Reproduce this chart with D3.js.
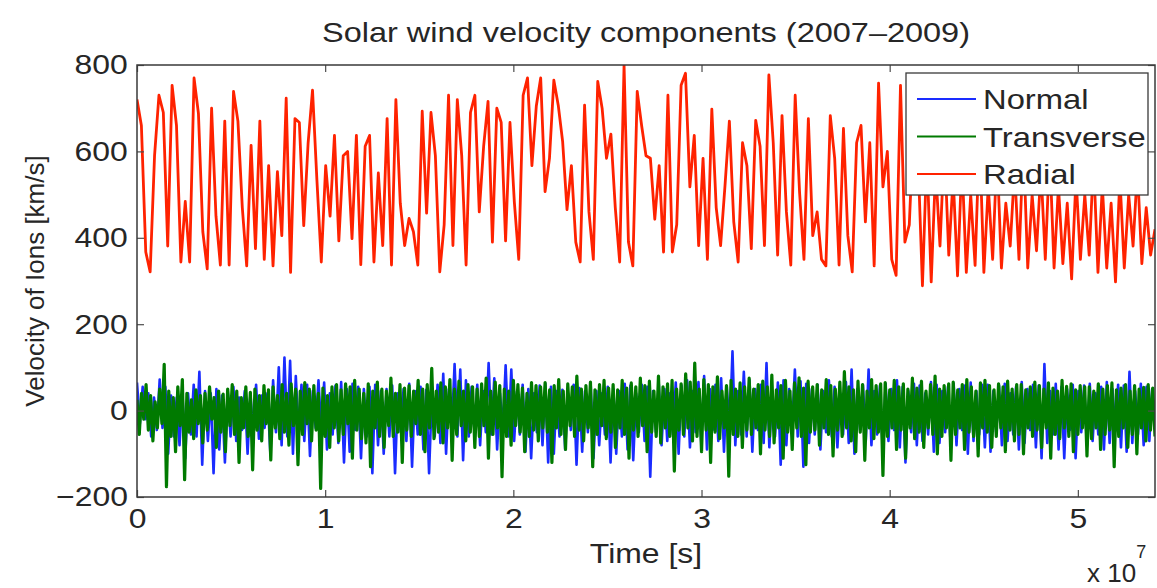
<!DOCTYPE html>
<html>
<head>
<meta charset="utf-8">
<script src="https://cdn.jsdelivr.net/npm/d3@7"></script>
<style>
  body { margin: 0; background: #fff; }
  text { font-family: "Liberation Sans", Arial, Helvetica, sans-serif; fill: #262626; }
</style>
</head>
<body>
<div id="chart"></div>
<script>
// values, evenly spaced over the time span
var radial = [720,660,367,321,590,730,690,381,753,660,
  344,484,344,770,688,414,328,700,450,337,
  670,337,739,670,470,335,614,375,670,350,
  567,335,553,405,723,320,676,667,428,620,
  742,534,344,567,450,637,393,590,600,398,
  637,338,612,637,344,550,382,676,337,720,
  480,382,445,414,337,693,457,690,590,321,
  430,730,382,720,590,337,690,730,460,612,
  716,390,700,667,393,667,482,350,730,770,
  567,705,
  770,507,584,765,707,623,465,567,390,344,707,460,350,762,700,584,640,470,344,800,390,335,739,660,590,
  584,443,567,367,730,367,430,753,781,518,
  637,382,584,350,698,470,382,520,670,437,
  344,620,567,375,672,612,382,777,620,360,
  683,460,337,730,505,350,676,405,460,350,
  335,683,584,337,653,405,321,620,660,437,
  620,335,758,518,600,350,313,753,390,430,
  667,584,
  289,595,298,560,381,620,360,540,312,580,
  320,500,336,640,320,520,350,600,330,480,
  381,560,350,620,330,500,370,560,350,600,
  330,520,340,480,305,540,350,500,360,580,
  320,520,330,480,298,540,330,500,381,560,
  340,470,360,420];

var normal = [65,-30,55,-20,40,-60,30,-45,72,-40,55,-100,35,-60,30,-80,45,-110,40,-55,60,-60,90,-125,45,-70,40,-145,50,-90,
  35,-120,45,-60,55,-70,30,-45,45,-100,40,-60,60,-65,35,-40,40,-95,70,-50,100,-80,123,-60,115,-100,80,-55,60,-70,
  60,-105,45,-40,70,-50,65,-90,40,-55,58,-75,66,-120,50,-95,62,-45,55,-110,50,-60,55,-145,60,-80,45,-100,50,-60,
  58,-145,40,-50,50,-70,62,-130,45,-55,55,-90,48,-145,40,-60,60,-75,85,-100,50,-45,108,-60,95,-115,70,-60,55,-45,
  60,-80,45,-50,110,-55,75,-90,40,-45,105,-60,95,-70,45,-55,60,-95,50,-110,40,-50,58,-80,62,-120,55,-100,45,-60,
  48,-90,40,-45,60,-125,52,-95,45,-50,58,-110,45,-80,40,-55,55,-120,50,-100,45,-60,62,-90,58,-115,40,-50,60,-70,
  55,-153,45,-50,62,-80,50,-70,40,-55,65,-100,58,-60,70,-85,45,-50,66,-75,80,-90,50,-45,60,-70,75,-95,55,-50,
  137,-80,45,-55,90,-60,70,-95,50,-45,60,-75,110,-85,45,-60,65,-125,70,-80,50,-45,95,-60,68,-130,62,-75,50,-55,
  60,-90,45,-50,70,-60,55,-85,40,-55,66,-75,95,-100,50,-45,60,-70,95,-80,45,-55,58,-95,62,-70,50,-45,70,-85,
  55,-120,45,-50,62,-80,58,-70,40,-55,66,-95,60,-75,45,-50,55,-90,62,-80,50,-45,58,-100,65,-70,45,-55,60,-85,
  60,-95,45,-50,58,-80,62,-70,40,-55,55,-90,66,-75,50,-45,60,-85,58,-110,108,-75,45,-55,62,-90,55,-110,50,-45,
  60,-110,45,-50,58,-80,62,-70,40,-55,55,-90,66,-75,50,-45,60,-85,58,-95,90,-75,45,-55,62,-80,55,-70,50,-45];

var transverse = [25,-55,40,-20,60,-45,35,-70,20,-40,50,-30,107,-176,45,-60,30,-95,55,-35,72,-160,40,-50,25,-65,48,-30,35,-75,
  40,-45,55,-20,30,-85,45,-50,38,-95,50,-35,60,-55,45,-120,30,-40,55,-60,42,-137,50,-45,35,-70,58,-30,48,-114,
  55,-40,35,-65,60,-50,40,-80,62,-35,50,-125,45,-55,65,-30,50,-70,58,-45,40,-180,52,-60,35,-85,55,-40,60,-70,
  48,-55,62,-30,55,-110,70,-45,50,-65,40,-75,62,-130,45,-40,66,-60,50,-85,45,-35,75,-60,40,-50,60,-120,52,-45,
  58,-60,45,-30,70,-55,50,-95,60,-40,98,-65,45,-50,64,-75,55,-40,72,-115,50,-55,68,-35,45,-70,60,-50,55,-85,
  50,-60,62,-35,75,-110,45,-55,66,-40,58,-153,50,-60,45,-80,70,-35,60,-50,52,-95,40,-60,65,-45,58,-70,55,-40,
  65,-50,48,-120,58,-40,72,-55,45,-90,62,-35,55,-60,80,-45,50,-70,58,-40,66,-130,48,-55,60,-35,70,-65,52,-50,
  60,-85,48,-40,70,-55,52,-110,64,-45,55,-60,75,-35,58,-95,68,-50,45,-60,80,-75,55,-40,62,-60,70,-140,50,-45,
  62,-55,85,-40,66,-70,110,-60,50,-95,72,-45,60,-120,55,-50,78,-65,45,-40,58,-152,70,-55,50,-60,64,-85,55,-45,
  75,-55,50,-40,60,-100,68,-45,55,-60,82,-75,48,-40,58,-110,70,-50,45,-90,64,-40,76,-60,52,-125,68,-50,55,-45,
  60,-80,48,-40,72,-55,58,-105,50,-45,66,-60,90,-40,55,-70,48,-95,68,-50,60,-115,45,-40,72,-65,58,-50,62,-150,
  65,-60,48,-40,70,-90,55,-45,62,-110,50,-40,75,-65,52,-50,68,-85,45,-40,60,-55,80,-100,50,-60,58,-40,62,-115,
  66,-55,48,-40,60,-90,72,-50,55,-60,45,-105,64,-40,70,-50,58,-85,48,-60,62,-40,55,-95,68,-45,50,-70,60,-55,
  60,-100,48,-40,55,-60,66,-45,58,-85,50,-40,64,-110,52,-55,45,-65,70,-40,56,-60,62,-95,48,-55,58,-40,55,-105,
  55,-65,45,-40,62,-90,50,-55,58,-45,64,-130,48,-60,52,-40,60,-85,45,-55,58,-100,50,-40,54,-70,60,-45,52,-60];

var tEnd = 5.41e7;
var xTicks = [0, 1e7, 2e7, 3e7, 4e7, 5e7];
var yTicks = [-200, 0, 200, 400, 600, 800];
var seriesNames = ["Normal", "Transverse", "Radial"];
var seriesColors = ["#1a2cff", "#007a00", "#ff2200"];

var W = 1157, H = 588;
var margin = {left: 137, right: 2, top: 65, bottom: 91};
var stretch = 1.14; // the text in the picture is a bit wide

var svg = d3.select("#chart").append("svg")
  .attr("width", W)
  .attr("height", H);

var x = d3.scaleLinear().domain([0, tEnd]).range([margin.left, W - margin.right]);
var y = d3.scaleLinear().domain([-200, 800]).range([H - margin.bottom, margin.top]);

svg.append("clipPath").attr("id", "plotclip")
  .append("rect")
  .attr("x", margin.left).attr("y", margin.top)
  .attr("width", W - margin.right - margin.left)
  .attr("height", H - margin.bottom - margin.top);

function toPoints(arr) {
  var step = tEnd / (arr.length - 1);
  return arr.map(function(v, i) { return [i * step, v]; });
}

var line = d3.line()
  .x(function(d) { return x(d[0]); })
  .y(function(d) { return y(d[1]); });

var widths = [2.6, 3.2, 2.8];
var plot = svg.append("g").attr("clip-path", "url(#plotclip)");
[normal, transverse, radial].forEach(function(arr, i) {
  plot.append("path")
    .datum(toPoints(arr))
    .attr("d", line)
    .attr("fill", "none")
    .attr("stroke", seriesColors[i])
    .attr("stroke-width", widths[i])
    .attr("stroke-linejoin", "round");
});

// axes, ticks pointing inward like matlab
var fmtX = function(d) { return d / 1e7; };
var fmtY = function(d) { return d < 0 ? "\u2212" + Math.abs(d) : d; };

var gB = svg.append("g").attr("transform", "translate(0," + (H - margin.bottom) + ")")
  .call(d3.axisBottom(x).tickValues(xTicks).tickFormat(fmtX).tickSizeInner(-7).tickSizeOuter(0).tickPadding(11));
var gT = svg.append("g").attr("transform", "translate(0," + margin.top + ")")
  .call(d3.axisTop(x).tickValues(xTicks).tickFormat("").tickSizeInner(-7).tickSizeOuter(0));
var gL = svg.append("g").attr("transform", "translate(" + margin.left + ",0)")
  .call(d3.axisLeft(y).tickValues(yTicks).tickFormat(fmtY).tickSizeInner(-7).tickSizeOuter(0).tickPadding(8));
var gR = svg.append("g").attr("transform", "translate(" + (W - margin.right) + ",0)")
  .call(d3.axisRight(y).tickValues(yTicks).tickFormat("").tickSizeInner(-7).tickSizeOuter(0));

[gB, gT, gL, gR].forEach(function(g) {
  g.select(".domain").remove();
  g.selectAll(".tick line").attr("stroke", "#4d4d4d").attr("stroke-width", 1.2);
  g.selectAll(".tick text").attr("font-size", 28).attr("fill", "#262626")
    .attr("transform", "scale(" + stretch + ",1)");
});

svg.append("rect")
  .attr("x", margin.left).attr("y", margin.top)
  .attr("width", W - margin.right - margin.left)
  .attr("height", H - margin.bottom - margin.top)
  .attr("fill", "none")
  .attr("stroke", "#3a3a3a")
  .attr("stroke-width", 1.5);

// legend
var lg = svg.append("g");
lg.append("rect")
  .attr("x", 906).attr("y", 73).attr("width", 242).attr("height", 122)
  .attr("fill", "#fff").attr("stroke", "#3a3a3a").attr("stroke-width", 1.3);
seriesNames.forEach(function(name, i) {
  var ly = 99 + i * 37.5;
  lg.append("line")
    .attr("x1", 917).attr("x2", 976).attr("y1", ly).attr("y2", ly)
    .attr("stroke", seriesColors[i]).attr("stroke-width", 2);
  lg.append("text")
    .attr("transform", "translate(983," + (ly + 10) + ") scale(" + (stretch + 0.03) + ",1)")
    .attr("font-size", 28)
    .text(name);
});

// titles
var cx = (margin.left + W - margin.right) / 2;
svg.append("text")
  .attr("transform", "translate(" + cx + ",42) scale(1.16,1)")
  .attr("text-anchor", "middle").attr("font-size", 28)
  .text("Solar wind velocity components (2007\u20132009)");

svg.append("text")
  .attr("transform", "translate(" + cx + ",563) scale(" + stretch + ",1)")
  .attr("text-anchor", "middle").attr("font-size", 28)
  .text("Time [s]");

svg.append("text")
  .attr("transform", "translate(44," + ((margin.top + H - margin.bottom) / 2) + ") rotate(-90)")
  .attr("text-anchor", "middle").attr("font-size", 26)
  .text("Velocity of Ions [km/s]");

var ex = svg.append("text").attr("x", 1087).attr("y", 582).attr("font-size", 26);
ex.append("tspan").text("x 10");
ex.append("tspan").attr("font-size", 18).attr("dy", -24).text("7");
</script>
</body>
</html>
